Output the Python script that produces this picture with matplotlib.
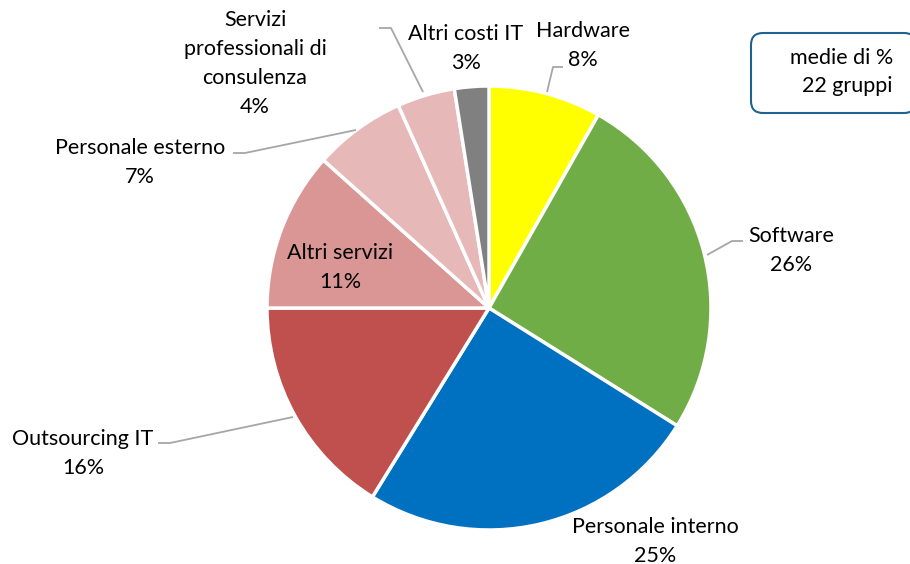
import matplotlib
matplotlib.use("Agg")
import matplotlib.pyplot as plt
from matplotlib.patches import FancyBboxPatch

categories = ["Hardware", "Software", "Personale interno", "Outsourcing IT",
              "Altri servizi", "Personale esterno",
              "Servizi\nprofessionali di\nconsulenza", "Altri costi IT"]
values = [8.2, 25.7, 24.9, 16.2, 11.6, 6.7, 4.2, 2.5]
pct_labels = ["8%", "26%", "25%", "16%", "11%", "7%", "4%", "3%"]
colors = ["#FFFF00", "#70AD47", "#0070C0", "#C0504D", "#D99694",
          "#E6B9B8", "#E6B9B8", "#808080"]

W, H = 910, 564
fig = plt.figure(figsize=(W / 100, H / 100), dpi=100)
ax = fig.add_axes([0, 0, 1, 1])

def Y(y):
    return H - y

cx, cy, r = 489, 308, 222
ax.pie(values, colors=colors, startangle=90, counterclock=False,
       center=(cx, Y(cy)), radius=r, frame=True,
       wedgeprops=dict(edgecolor="white", linewidth=2.5))
ax.set_xlim(0, W)
ax.set_ylim(0, H)
ax.set_aspect("equal")
ax.axis("off")

font = ["Lato", "DejaVu Sans"]
fs = 15.5
label_pos = [(583, 31), (791, 236), (655, 527), (83, 439),
             (340, 253), (140, 148), (255, 20), (466, 34)]
line_h = 29
for name, pct, (x, y) in zip(categories, pct_labels, label_pos):
    lines = name.split("\n") + [pct]
    for i, ln in enumerate(lines):
        ax.text(x, Y(y + i * line_h), ln, ha="center", va="center",
                fontsize=fs, family=font, color="#000000")

leaders = [
    [(563, 67), (553, 67), (547, 92)],
    [(743, 241), (732, 241), (707, 255)],
    [(158, 443), (170, 443), (293, 417)],
    [(233, 153), (245, 153), (356, 130)],
    [(379, 28), (391, 28), (423, 92)],
]
for pts in leaders:
    ax.plot([p[0] for p in pts], [Y(p[1]) for p in pts],
            color="#A6A6A6", lw=1.3, solid_capstyle="butt")

box = FancyBboxPatch((751, Y(113)), 165, 80,
                     boxstyle="round,pad=0,rounding_size=12",
                     fc="white", ec="#1F6391", lw=1.5, clip_on=False)
ax.add_patch(box)
ax.text(893, Y(58), "medie di %", ha="right", va="center",
        fontsize=fs, family=font)
ax.text(893, Y(86), "22 gruppi", ha="right", va="center",
        fontsize=fs, family=font)

fig.savefig("out.png", dpi=100)
